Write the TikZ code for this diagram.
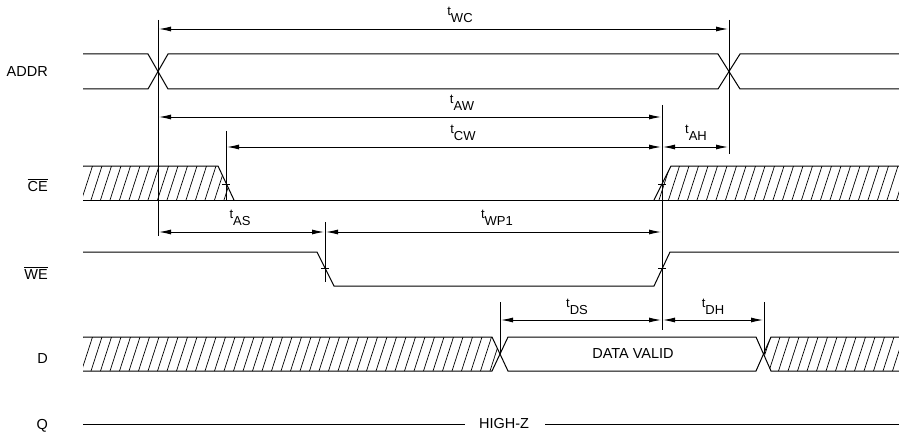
\documentclass[tikz,border=0pt]{standalone}
\usepackage{fontspec}
\setmainfont{Liberation Sans}
\usetikzlibrary{arrows.meta}

\newcommand{\tm}[1]{t\raisebox{-7pt}{#1}}

\tikzset{
  wave/.style={line width=1pt},
  marker/.style={line width=0.9pt},
  dim/.style={line width=0.9pt, {Latex[length=12pt,width=5pt]}-{Latex[length=12pt,width=5pt]}, shorten <=1pt, shorten >=1pt},
  hatch/.style={line width=0.7pt},
  sig/.style={font=\fontsize{14.5}{16}\selectfont, anchor=base east, inner sep=0pt},
  tlabel/.style={font=\fontsize{13}{15}\selectfont, inner sep=0pt},
  txt/.style={font=\fontsize{14.5}{16}\selectfont, inner sep=0pt}
}

\begin{document}
\begin{tikzpicture}[x=1pt, y=-1pt]
        \useasboundingbox (0,0) rectangle (899,433);

        \node[sig] (addr) at (48,77) {ADDR};
        \node[sig] (ce) at (48,191) {$\overline{\mbox{CE}}$};
        \node[sig] (we) at (48,279) {$\overline{\mbox{WE}}$};
        \node[sig] (d) at (48,363) {D};
        \node[sig] (q) at (48,429) {Q};

        \coordinate (m1t) at (158,20);
        \coordinate (m1b) at (158,236);
        \coordinate (m2t) at (729,20);
        \coordinate (m2b) at (729,154);
        \coordinate (m3t) at (226,131);
        \coordinate (m3b) at (226,200);
        \coordinate (m4t) at (662,105);
        \coordinate (m4b) at (662,330);
        \coordinate (m5t) at (325,222);
        \coordinate (m5b) at (325,282);
        \coordinate (m6t) at (500,302);
        \coordinate (m6b) at (500,354);
        \coordinate (m7t) at (764,302);
        \coordinate (m7b) at (764,354);

        \draw[marker] (m1t) -- (m1b);
        \draw[marker] (m2t) -- (m2b);
        \draw[marker] (m3t) -- (m3b);
        \draw[marker] (m4t) -- (m4b);
        \draw[marker] (m5t) -- (m5b);
        \draw[marker] (m6t) -- (m6b);
        \draw[marker] (m7t) -- (m7b);

        % ADDR
        \draw[wave] (83,54) -- (148,54) -- (168,89) -- (718,89) -- (740,54) -- (899,54);
        \draw[wave] (83,89) -- (148,89) -- (168,54) -- (718,54) -- (740,89) -- (899,89);

        % CE
        \begin{scope}
          \clip (83,166) -- (218,166) -- (234,200) -- (83,200) -- cycle;
          \foreach \x in {72,81.5,...,240}
            \draw[hatch] (\x,200) -- (\x+11,166);
        \end{scope}
        \begin{scope}
          \clip (654,200) -- (671,166) -- (899,166) -- (899,200) -- cycle;
          \foreach \x in {640,649.5,...,905}
            \draw[hatch] (\x,200) -- (\x+11,166);
        \end{scope}
        \draw[wave] (83,166) -- (218,166) -- (234,200);
        \draw[wave] (83,200) -- (899,200);
        \draw[wave] (654,200) -- (671,166) -- (899,166);
        \draw[marker] (222,184) -- (230,184);
        \draw[marker] (658,184) -- (666,184);

        % WE
        \draw[wave] (83,252) -- (317,252) -- (334,286) -- (654,286) -- (670,252) -- (899,252);
        \draw[marker] (321,268) -- (329,268);
        \draw[marker] (658,268) -- (666,268);

        % D
        \begin{scope}
          \clip (83,337) -- (492,337) -- (500,354) -- (492,371) -- (83,371) -- cycle;
          \foreach \x in {72,81.5,...,505}
            \draw[hatch] (\x,371) -- (\x+11,337);
        \end{scope}
        \begin{scope}
          \clip (899,337) -- (771,337) -- (764,354) -- (771,371) -- (899,371) -- cycle;
          \foreach \x in {750,759.5,...,905}
            \draw[hatch] (\x,371) -- (\x+11,337);
        \end{scope}
        \draw[wave] (83,337) -- (492,337) -- (508,371) -- (756,371) -- (771,337) -- (899,337);
        \draw[wave] (83,371) -- (492,371) -- (508,337) -- (756,337) -- (771,371) -- (899,371);
        \node[txt] (valid) at (633,354) {DATA VALID};

        % Q
        \node[txt] (hiz) at (504,424) {HIGH-Z};
        \coordinate (q1) at (83,424);
        \coordinate (q2) at (899,424);
        \draw[wave] (q1) -- ([xshift=-14pt]hiz.west);
        \draw[wave] ([xshift=16pt]hiz.east) -- (q2);

        % timing
        \draw[dim] (158,29) -- (729,29);
        \draw[dim] (158,117) -- (662,117);
        \draw[dim] (226,147) -- (662,147);
        \draw[dim] (662,147) -- (729,147);
        \draw[dim] (158,232) -- (325,232);
        \draw[dim] (325,232) -- (662,232);
        \draw[dim] (500,320) -- (662,320);
        \draw[dim] (662,320) -- (764,320);

        \node[tlabel] (twc) at (460,15) {\tm{WC}};
        \node[tlabel] (taw) at (462,103) {\tm{AW}};
        \node[tlabel] (tcw) at (463,133) {\tm{CW}};
        \node[tlabel] (tah) at (696,133) {\tm{AH}};
        \node[tlabel] (tas) at (240,218) {\tm{AS}};
        \node[tlabel] (twp) at (497,218) {\tm{WP1}};
        \node[tlabel] (tds) at (577,307) {\tm{DS}};
        \node[tlabel] (tdh) at (713,307) {\tm{DH}};
\end{tikzpicture}
\end{document}
